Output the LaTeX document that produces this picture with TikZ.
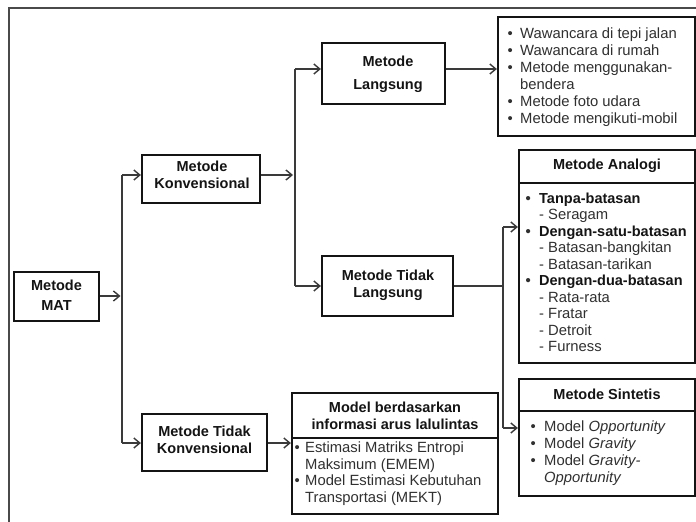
\documentclass[tikz,border=0pt]{standalone}
\usepackage{fontspec}
\setmainfont{Liberation Sans}
\usetikzlibrary{arrows.meta}

\definecolor{ink}{HTML}{141414}
\definecolor{txt}{HTML}{303030}
\definecolor{wire}{HTML}{3A3A3A}
\definecolor{framegray}{HTML}{4A4A4A}

\newcommand{\titlefont}{\fontsize{14.5bp}{17bp}\selectfont\bfseries}
\newcommand{\bodyfont}{\fontsize{14.8bp}{17bp}\selectfont}
\newcommand{\bodyfontsm}{\fontsize{14.8bp}{16.5bp}\selectfont}
% bullet in a fixed-width slot, and the matching indent for wrapped lines
\newcommand{\bul}[1][12.5bp]{\makebox[#1][l]{\textbullet}}
\newcommand{\bbul}[1][13.5bp]{\makebox[#1][l]{\textbf{\textbullet}}}
\newcommand{\indt}[1][12.5bp]{\hspace*{#1}}

\tikzset{
  box/.style={draw=ink, line width=2.2bp, fill=white, inner sep=0pt},
  title/.style={inner sep=0pt, align=center, font=\titlefont, text=ink},
  bodytext/.style={inner sep=0pt, align=left, font=\bodyfont, text=txt, anchor=west},
  wire/.style={draw=wire, line width=1.4bp},
  conn/.style={wire, -{Straight Barb[length=6bp,width=10bp,line width=1.4bp]}},
  frameline/.style={draw=framegray, line width=2bp},
}

\begin{document}
\begin{tikzpicture}[x=1bp,y=-1bp]
\useasboundingbox (0,0) rectangle (696,522);

% outer frame (left and top edges)
\draw[frameline] (9,522) -- (9,8) -- (696,8);

% ---- boxes ----
\node[box, minimum width=85bp,  minimum height=49bp] (mat)   at (56.5,296.5) {};
\node[box, minimum width=118bp, minimum height=48bp] (konv)  at (201,179) {};
\node[box, minimum width=125bp, minimum height=57bp] (tkonv) at (204.5,442.5) {};
\node[box, minimum width=123bp, minimum height=61bp] (lang)  at (383.5,73.5) {};
\node[box, minimum width=131bp, minimum height=60bp] (tlang) at (387.5,286) {};
\node[box, minimum width=197bp, minimum height=119bp] (list) at (596.5,76.5) {};

\node[box, minimum width=176bp, minimum height=180bp] (anbody) at (607,273) {};
\node[box, minimum width=176bp, minimum height=33bp]  (anhead) at (607,166.5) {};

\node[box, minimum width=176bp, minimum height=85bp] (sinbody) at (607,453.5) {};
\node[box, minimum width=176bp, minimum height=32bp] (sinhead) at (607,395) {};

\node[box, minimum width=206bp, minimum height=76bp] (modbody) at (395,476) {};
\node[box, minimum width=206bp, minimum height=45bp] (modhead) at (395,415.5) {};

% ---- titles ----
\node[title] (matT)   at (56.5,295)  {Metode\\[3bp]MAT};
\node[title] (konvT)  at (202,174.5) {Metode\\Konvensional};
\node[title] (tkonvT) at (204.5,439.5) {Metode Tidak\\Konvensional};
\node[title] (langT)  at (388,74.5)  {Metode\\[6bp]Langsung};
\node[title] (tlangT) at (388,285.5) {Metode Tidak\\Langsung};
\node[title] (anT)    at (607,166)   {Metode Analogi};
\node[title] (sinT)   at (607,394)   {Metode Sintetis};
\node[title] (modT)   at (395,416)   {Model berdasarkan\\informasi arus lalulintas};

% ---- list texts ----
\node[bodytext] (listT) at (507.5,77.5) {%
  \bul Wawancara di tepi jalan\\
  \bul Wawancara di rumah\\
  \bul Metode menggunakan-\\
  \indt bendera\\
  \bul Metode foto udara\\
  \bul Metode mengikuti-mobil};

\node[bodytext, font=\bodyfontsm] (anT2) at (525.5,272.5) {%
  \bbul{\titlefont\color{ink}Tanpa-batasan}\\
  \indt[13.5bp]- Seragam\\
  \bbul{\titlefont\color{ink}Dengan-satu-batasan}\\
  \indt[13.5bp]- Batasan-bangkitan\\
  \indt[13.5bp]- Batasan-tarikan\\
  \bbul{\titlefont\color{ink}Dengan-dua-batasan}\\
  \indt[13.5bp]- Rata-rata\\
  \indt[13.5bp]- Fratar\\
  \indt[13.5bp]- Detroit\\
  \indt[13.5bp]- Furness};

\node[bodytext] (sinT2) at (530.5,453) {%
  \bul[13.5bp]Model \textit{Opportunity}\\
  \bul[13.5bp]Model \textit{Gravity}\\
  \bul[13.5bp]Model \textit{Gravity-}\\
  \indt[13.5bp]\textit{Opportunity}};

\node[bodytext, font=\bodyfontsm] (modT2) at (294.5,473.5) {%
  \bul[10.5bp]Estimasi Matriks Entropi\\
  \indt[10.5bp]Maksimum (EMEM)\\
  \bul[10.5bp]Model Estimasi Kebutuhan\\
  \indt[10.5bp]Transportasi (MEKT)};

% ---- connectors ----
\coordinate (jm) at (122,296);
\coordinate (ja) at (122,175);
\coordinate (jb) at (122,443);
\draw[conn, shorten >=1.5bp] (mat.east |- jm) -- (jm);
\draw[wire] (ja) -- (jb);
\draw[conn] (ja) -- (ja -| konv.west);
\draw[conn] (jb) -- (jb -| tkonv.west);

\coordinate (je) at (295,175);
\coordinate (jc) at (295,69);
\coordinate (jd) at (295,286);
\draw[conn, shorten >=2bp] (konv.east |- je) -- (je);
\draw[wire] (jc) -- (jd);
\draw[conn] (jc) -- (jc -| lang.west);
\draw[conn] (jd) -- (jd -| tlang.west);
\draw[conn] (lang.east |- jc) -- (jc -| list.west);

\coordinate (jh) at (503,286);
\coordinate (jf) at (503,227);
\coordinate (jg) at (503,428);
\draw[wire] (tlang.east |- jh) -- (jh);
\draw[wire] (jf) -- (jg);
\draw[conn] (jf) -- (jf -| anbody.west);
\draw[conn] (jg) -- (jg -| sinbody.west);

\coordinate (jk) at (267,443);
\draw[conn] (tkonv.east |- jk) -- (jk -| modbody.west);
\end{tikzpicture}
\end{document}
